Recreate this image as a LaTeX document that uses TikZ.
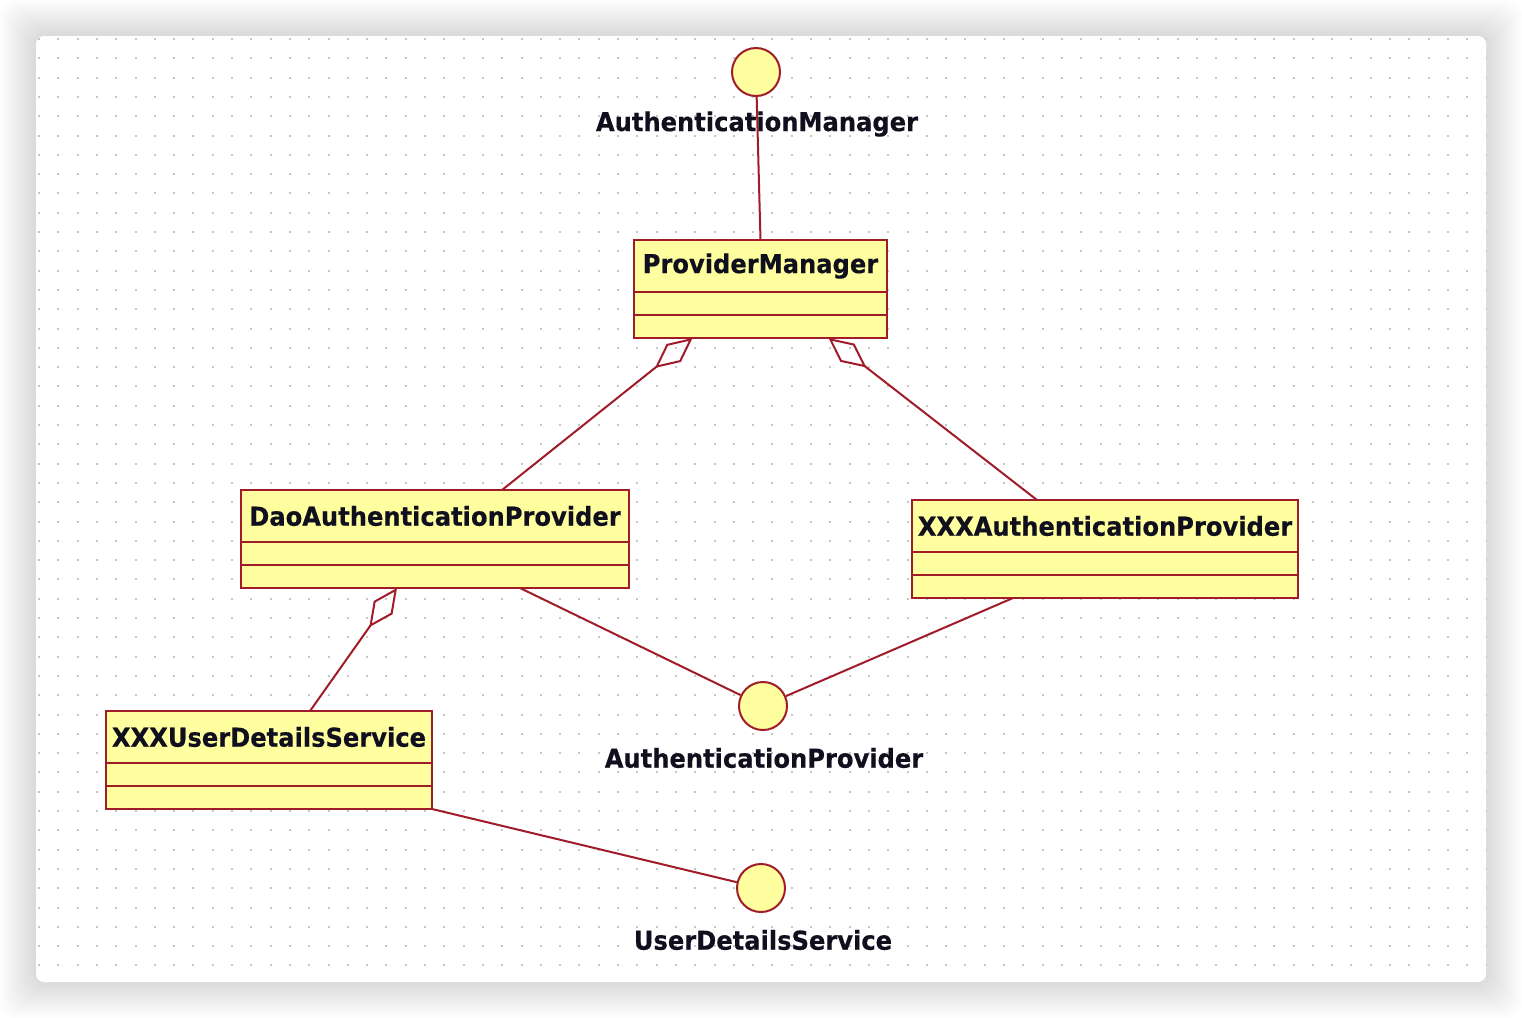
\documentclass[tikz,border=0pt]{standalone}
\usepackage{fontspec}
\newfontfamily\umlfont[FakeStretch=0.93, BoldFeatures={FakeBold=0.4}]{DejaVu Sans}
\usetikzlibrary{positioning,arrows.meta,calc}
\definecolor{umlred}{RGB}{160,28,40}
\definecolor{umlyellow}{RGB}{255,255,160}
\definecolor{umltext}{RGB}{15,15,30}

\begin{document}
\begin{tikzpicture}[x=0.5pt,y=-0.5pt,
    umllabel/.style={font=\umlfont\bfseries\fontsize{13}{15}\selectfont, text=umltext},
    classhead/.style={umllabel, draw=umlred, fill=umlyellow, line width=1pt, outer sep=0pt,
      inner sep=0pt, minimum height=26pt, minimum width=#1},
    classpart/.style={draw=umlred, fill=umlyellow, line width=1pt, outer sep=0pt,
      inner sep=0pt, minimum height=11.5pt, minimum width=#1},
    iface/.style={circle, draw=umlred, fill=umlyellow, line width=1pt, inner sep=0pt,
      minimum size=24pt},
    ifacelabel/.style={umllabel, inner sep=0pt},
    link/.style={draw=umlred, line width=1pt},
    agg/.style={link, {Diamond[open, length=24pt, width=11.5pt]}-},
    dotrow/.style={gray!45, line width=1pt, dash pattern=on 1pt off 8.65pt}
  ]
  \useasboundingbox (0,0) rectangle (1522,1018);

  % sheet with shadow and dotted grid
  \foreach \i in {1,...,18}
    \fill[black, opacity=0.009, rounded corners=8pt] (36-2*\i,36-2*\i) rectangle (1486+2*\i,982+2*\i);
  \fill[white, rounded corners=4pt] (36,36) rectangle (1486,982);
  \foreach \y in {39,58.3,...,981}
    \draw[dotrow] (38,\y) -- (1486,\y);

  % classes
  \node[classhead=126.5pt] (pm) at (760.5,266) {ProviderManager};
  \node[classpart=126.5pt, below=0pt of pm] (pm1) {};
  \node[classpart=126.5pt, below=0pt of pm1] (pm2) {};

  \node[classhead=194pt] (dao) at (435,516) {DaoAuthenticationProvider};
  \node[classpart=194pt, below=0pt of dao] (dao1) {};
  \node[classpart=194pt, below=0pt of dao1] (dao2) {};

  \node[classhead=193pt] (xap) at (1105,526) {XXXAuthenticationProvider};
  \node[classpart=193pt, below=0pt of xap] (xap1) {};
  \node[classpart=193pt, below=0pt of xap1] (xap2) {};

  \node[classhead=163pt] (uds) at (269,737) {XXXUserDetailsService};
  \node[classpart=163pt, below=0pt of uds] (uds1) {};
  \node[classpart=163pt, below=0pt of uds1] (uds2) {};

  % interfaces
  \node[iface] (am) at (756,72) {};
  \node[ifacelabel] (amtext) at (757,124) {AuthenticationManager};
  \node[iface] (ap) at (763,706) {};
  \node[ifacelabel] (aptext) at (764,758) {AuthenticationProvider};
  \node[iface] (us) at (761,888) {};
  \node[ifacelabel] (ustext) at (763,940) {UserDetailsService};

  % connectors
  \draw[link] (am) -- (pm.north);
  \draw[agg] ([xshift=-34pt]pm2.south) -- ([xshift=33.5pt]dao.north);
  \draw[agg] ([xshift=34pt]pm2.south) -- ([xshift=-34pt]xap.north);
  \draw[agg] ([xshift=-19pt]dao2.south) -- ([xshift=20.5pt]uds.north);
  \draw[link] ([xshift=42.5pt]dao2.south) -- (ap);
  \draw[link] ([xshift=-46pt]xap2.south) -- (ap);
  \draw[link] (uds2.south east) -- (us);
\end{tikzpicture}
\end{document}
